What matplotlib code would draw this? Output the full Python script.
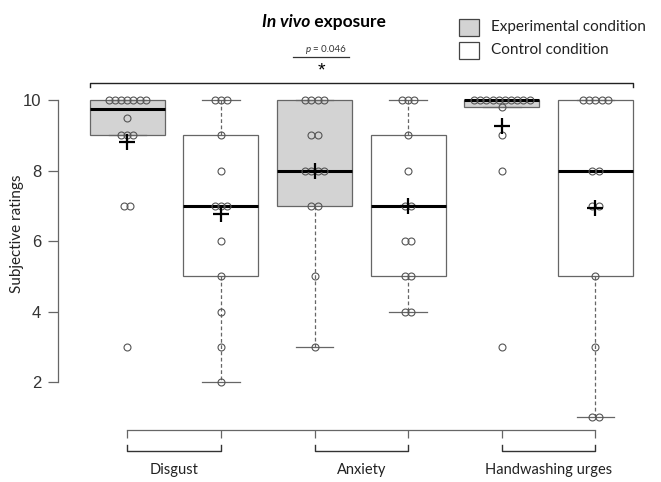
import numpy as np
import matplotlib
matplotlib.use('Agg')
import matplotlib.pyplot as plt
from matplotlib.patches import Rectangle

# ratings per group, order: Disgust exp/ctrl, Anxiety exp/ctrl, Handwashing exp/ctrl
disgust_exp = [10] * 7 + [9.5] + [9] * 3 + [7] * 2 + [3]
disgust_ctrl = [10] * 3 + [9, 8] + [7] * 3 + [6, 5, 4, 3, 2]
anxiety_exp = [10] * 4 + [9] * 2 + [8] * 4 + [7] * 2 + [5, 3]
anxiety_ctrl = [10] * 3 + [9, 8] + [7] * 2 + [6] * 2 + [5] * 2 + [4] * 2
hand_exp = [10] * 10 + [9.8, 9, 8, 3]
hand_ctrl = [10] * 5 + [8] * 2 + [7] * 2 + [5, 3] + [1] * 2

groups = [disgust_exp, disgust_ctrl, anxiety_exp, anxiety_ctrl, hand_exp, hand_ctrl]
fills = ['#d3d3d3', 'white'] * 3
categories = ['Disgust', 'Anxiety', 'Handwashing urges']
legend_labels = ['Experimental condition', 'Control condition']
yticks = [2, 4, 6, 8, 10]
p_text = '= 0.046'

TXT = ['Lato', 'DejaVu Sans']
NUM = ['Liberation Sans', 'DejaVu Sans']
EDGE = '#666666'


# Tukey hinges, as R's boxplot does
def fivenum(vals):
    x = np.sort(np.asarray(vals, dtype=float))
    n = len(x)
    n4 = np.floor((n + 3) / 2) / 2
    d = np.array([1, n4, (n + 1) / 2, n + 1 - n4, n])
    return 0.5 * (x[np.floor(d).astype(int) - 1] + x[np.ceil(d).astype(int) - 1])


def box_stats(vals):
    x = np.asarray(vals, dtype=float)
    lo, q1, med, q3, hi = fivenum(x)
    iqr = q3 - q1
    return dict(med=med, q1=q1, q3=q3,
                whislo=x[x >= q1 - 1.5 * iqr].min(),
                whishi=x[x <= q3 + 1.5 * iqr].max(),
                fliers=[], mean=x.mean())


fig = plt.figure(figsize=(6.61, 4.82), dpi=100)
ax = fig.add_axes([58 / 661, 1 - 430 / 482, 603 / 661, 342.7 / 482])

positions = np.arange(1, len(groups) + 1)
stats = [box_stats(g) for g in groups]
bp = ax.bxp(stats, positions=positions, widths=0.8, patch_artist=True,
            showmeans=False, showfliers=False, capwidths=0.4,
            boxprops=dict(edgecolor=EDGE, linewidth=0.9),
            medianprops=dict(color='black', linewidth=2.2),
            whiskerprops=dict(color=EDGE, linestyle=(0, (3, 2)), linewidth=0.9),
            capprops=dict(color=EDGE, linewidth=0.9))
for patch, fc in zip(bp['boxes'], fills):
    patch.set_facecolor(fc)

# points stacked side by side at equal values
step = 0.066
for pos, g in zip(positions, groups):
    vals, counts = np.unique(g, return_counts=True)
    for v, c in zip(vals, counts):
        xs = pos + (np.arange(c) - (c - 1) / 2) * step
        ax.plot(xs, [v] * c, 'o', ms=5, mfc='none', mec='#555555', mew=0.8, zorder=4)
    ax.plot(pos, np.mean(g), '+', ms=12, mec='black', mew=1.6, zorder=5)

ax.set_xlim(0.26, 6.70)
ax.set_ylim(0.64, 10.36)
for s in ['top', 'right']:
    ax.spines[s].set_visible(False)
ax.spines['left'].set_bounds(2, 10)
ax.spines['bottom'].set_bounds(1, 6)
for s in ['left', 'bottom']:
    ax.spines[s].set_color(EDGE)
    ax.spines[s].set_linewidth(0.9)
ax.set_yticks(yticks)
ax.set_xticks(positions)
ax.set_xticklabels([''] * len(positions))
ax.tick_params(axis='y', length=7, width=0.9, color=EDGE, labelsize=12, labelcolor='#333333', pad=5)
ax.tick_params(axis='x', length=6, width=0.9, color=EDGE)
for lab in ax.get_yticklabels():
    lab.set_family(NUM)
ax.set_ylabel('Subjective ratings', family=TXT, fontsize=11, color='#222222')
ax.yaxis.set_label_coords(-0.057, 0.572)

# category brackets below the axis
for i, cat in enumerate(categories):
    a, b = positions[2 * i], positions[2 * i + 1]
    ax.plot([a, a, b, b], [0.21, 0.04, 0.04, 0.21], color='#333333', lw=1.0, clip_on=False)
    ax.text((a + b) / 2, -0.5, cat, ha='center', va='center', family=TXT,
            fontsize=10.5, color='#222222')

# overall bracket above the boxes
ax.plot([0.6, 0.6, 6.4, 6.4], [10.36, 10.48, 10.48, 10.36], color='#222222', lw=1.0, clip_on=False)

# title, significance mark
t1 = fig.text(310 / 661, 1 - 22 / 482, 'In vivo', ha='right', va='center', family=TXT,
              fontsize=12.5, fontweight='bold', style='italic')
ax.annotate(' exposure', xy=(1, 0.5), xycoords=t1, ha='left', va='center', family=TXT,
            fontsize=12.5, fontweight='bold')
tp = fig.text(313 / 661, 1 - 50 / 482, 'p ', ha='right', va='center', family=TXT,
              fontsize=7, style='italic', color='#333333')
ax.annotate(p_text, xy=(1, 0.5), xycoords=tp, ha='left', va='center', family=TXT,
            fontsize=7, color='#333333')
fig.add_artist(plt.Line2D([293 / 661, 349 / 661], [1 - 57 / 482] * 2, color='#333333', lw=0.9))
fig.text(321 / 661, 1 - 71 / 482, '*', ha='center', va='center', family=NUM, fontsize=14)

# legend
for j, (lab, fc) in enumerate(zip(legend_labels, fills[:2])):
    ytop = 19 + j * 23
    fig.add_artist(Rectangle((459 / 661, 1 - (ytop + 17) / 482), 20 / 661, 17 / 482,
                             facecolor=fc, edgecolor='#444444', lw=0.9))
    fig.text(491 / 661, 1 - (ytop + 8.5) / 482, lab, ha='left', va='center', family=TXT,
             fontsize=11, color='#222222')

fig.savefig('out.png', dpi=100)
